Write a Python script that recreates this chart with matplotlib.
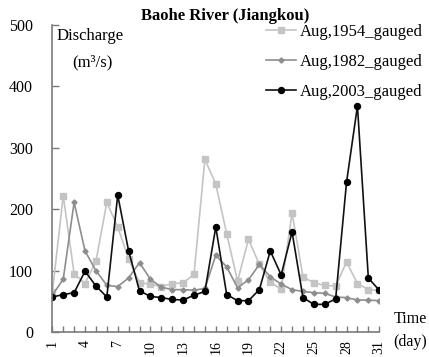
import matplotlib
matplotlib.use("Agg")
import matplotlib.pyplot as plt

days = list(range(1, 32))
q1954 = [65, 222, 95, 79, 115, 211, 171, 119, 80, 78, 74, 79, 80, 94, 281, 241,
         160, 83, 151, 110, 81, 70, 194, 90, 80, 76, 75, 114, 79, 69, 68]
q1982 = [60, 86, 211, 132, 100, 76, 74, 88, 113, 86, 73, 69, 69, 68, 71, 125,
         106, 72, 85, 110, 90, 78, 69, 66, 64, 63, 57, 56, 52, 52, 51]
q2003 = [57, 61, 64, 99, 75, 57, 223, 132, 67, 58, 56, 53, 52, 60, 66, 171,
         61, 51, 51, 69, 132, 93, 163, 56, 45, 45, 54, 244, 368, 88, 68]
series_labels = ["Aug,1954_gauged", "Aug,1982_gauged", "Aug,2003_gauged"]
y_ticks = [0, 100, 200, 300, 400, 500]

plt.rcParams["font.family"] = ["Liberation Serif", "DejaVu Serif"]

fig = plt.figure(figsize=(4.29, 3.57), dpi=100)
ax = fig.add_axes([0.122, 0.070, 0.762, 0.860])

ax.plot(days, q1954, color="#c4c4c4", lw=1.2, marker="s", ms=3.8,
        mec="#c4c4c4", mfc="#c4c4c4", label=series_labels[0])
ax.plot(days, q1982, color="#8e8e8e", lw=1.2, marker="D", ms=2.6,
        mec="#8e8e8e", mfc="#8e8e8e", label=series_labels[1])
ax.plot(days, q2003, color="#111111", lw=1.2, marker="o", ms=4.3,
        mec="#000000", mfc="#000000", label=series_labels[2])

ax.set_xlim(1, 31)
ax.set_ylim(0, 500)
for side in ("top", "right"):
    ax.spines[side].set_visible(False)
for side in ("left", "bottom"):
    ax.spines[side].set_color("#7a7a7a")
    ax.spines[side].set_linewidth(1.2)

ax.set_yticks(y_ticks)
ax.set_yticklabels([str(v) for v in y_ticks], fontsize=11.5)
ax.set_xticks(days)
ax.set_xticklabels([str(d) if (d - 1) % 3 == 0 else "" for d in days],
                   rotation=90, fontsize=10)
ax.tick_params(axis="y", direction="in", length=5, width=1, color="#7a7a7a", pad=14)
ax.tick_params(axis="x", direction="in", length=4, width=1, color="#7a7a7a", pad=6)

ax.text(0.014, 0.99, "Discharge", transform=ax.transAxes, fontsize=12,
        ha="left", va="top")
ax.text(0.062, 0.905, "(m³/s)", transform=ax.transAxes, fontsize=12,
        ha="left", va="top")

fig.text(0.525, 0.955, "Baohe River (Jiangkou)", fontsize=12,
         fontweight="bold", ha="center", va="center")
fig.text(0.996, 0.106, "Time", fontsize=11.5, ha="right", va="center")
fig.text(0.996, 0.042, "(day)", fontsize=11.5, ha="right", va="center")

fig.legend(loc="upper right", bbox_to_anchor=(1.0, 0.952), frameon=False,
           borderaxespad=0, fontsize=12, handlelength=1.8, handletextpad=0.2,
           labelspacing=0.85)

fig.savefig("out.png", dpi=100)
